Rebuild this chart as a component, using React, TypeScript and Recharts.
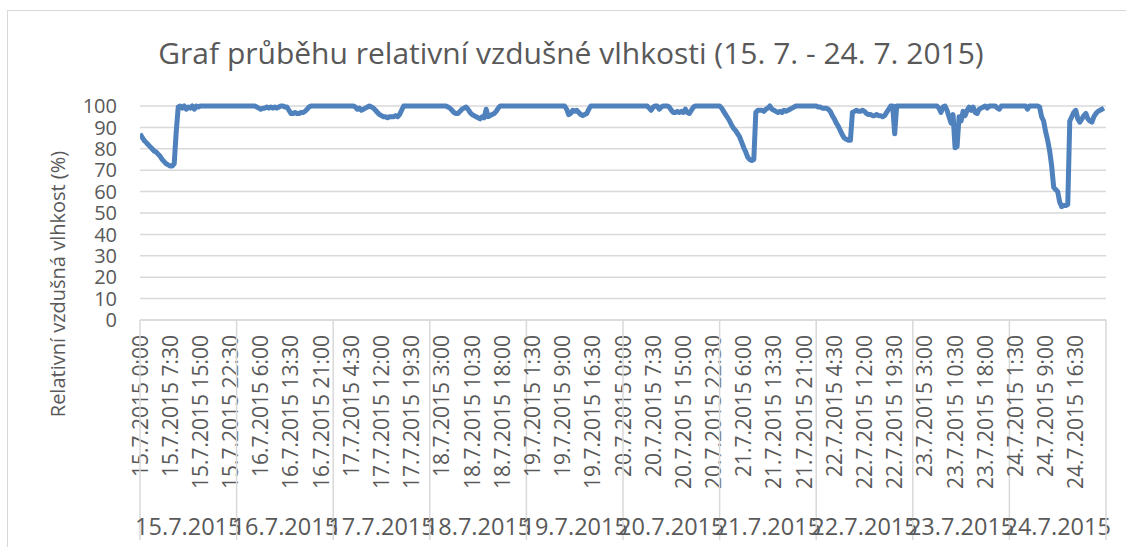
import React from 'react';
import { LineChart, Line, XAxis, YAxis, CartesianGrid } from 'recharts';

// Dates of the measured days
const days = ['15.7.2015', '16.7.2015', '17.7.2015', '18.7.2015', '19.7.2015', '20.7.2015', '21.7.2015', '22.7.2015', '23.7.2015', '24.7.2015'];

// Relative humidity (%) – half-hourly readings per day (00:00, 00:30, ... 23:30)
const d15 = [87, 85.5, 84, 83, 82, 81, 80, 79, 78.5, 77.5, 76.5, 75, 74, 73, 72.5, 72, 72, 73, 88, 99.5, 100, 99, 100, 98.5, 99.5, 99, 100, 98.5, 100, 99.5, 100, 100, 100, 100, 100, 100, 100, 100, 100, 100, 100, 100, 100, 100, 100, 100, 100, 100];
const d16 = [100, 100, 100, 100, 100, 100, 100, 100, 100, 100, 99.5, 99, 98.5, 99, 99, 99.5, 99, 99.5, 99, 99.5, 99, 99.5, 100, 100, 99.5, 99.5, 98, 96.5, 96.5, 97, 96.5, 96.5, 97, 97, 97.5, 98.5, 99.5, 100, 100, 100, 100, 100, 100, 100, 100, 100, 100, 100];
const d17 = [100, 100, 100, 100, 100, 100, 100, 100, 100, 100, 100, 99.5, 98.5, 99, 98, 98.5, 99, 99.5, 100, 99.5, 99, 98, 97, 96, 95.5, 95, 95, 94.5, 95, 95, 95, 95.5, 95, 96, 98, 100, 100, 100, 100, 100, 100, 100, 100, 100, 100, 100, 100, 100];
const d18 = [100, 100, 100, 100, 100, 100, 100, 100, 100, 99.5, 99, 98, 97, 96.5, 96.5, 97.5, 98.5, 99, 99.5, 98.5, 97, 96, 95.5, 95, 94.5, 94, 95, 94.5, 98.5, 95, 95.5, 96, 96.5, 97.5, 99, 100, 100, 100, 100, 100, 100, 100, 100, 100, 100, 100, 100, 100];
const d19 = [100, 100, 100, 100, 100, 100, 100, 100, 100, 100, 100, 100, 100, 100, 100, 100, 100, 100, 100, 100, 98.5, 96, 96.5, 98, 97.5, 98, 97, 96, 95.5, 96, 96.5, 98.5, 100, 100, 100, 100, 100, 100, 100, 100, 100, 100, 100, 100, 100, 100, 100, 100];
const d20 = [100, 100, 100, 100, 100, 100, 100, 100, 100, 100, 100, 100, 100, 99, 98, 99.5, 100, 100, 98.5, 99.5, 100, 100, 100, 99.5, 98, 97, 97, 97.5, 97, 97.5, 97, 98.5, 97, 96.5, 98, 99.5, 100, 100, 100, 100, 100, 100, 100, 100, 100, 100, 100, 100];
const d21 = [100, 99, 97.5, 96, 94.5, 93, 91, 89.5, 88.5, 87, 85.5, 83, 80.5, 78.5, 76, 75, 74.5, 75, 97, 98, 98, 98, 97.5, 98.5, 99, 100, 98.5, 98, 97.5, 97, 97.5, 97, 98, 97.5, 98, 98.5, 99, 99.5, 100, 100, 100, 100, 100, 100, 100, 100, 100, 100];
const d22 = [100, 99.5, 99.5, 99, 99, 99, 98.5, 97.5, 95.5, 94, 92, 90.5, 88.5, 86.5, 85, 84.5, 84, 84, 97, 97.5, 98, 97.5, 97.5, 98, 97.5, 96.5, 96, 96, 95.5, 95.5, 96, 95.5, 95.5, 95, 95.5, 97, 98.5, 100, 100, 87, 100, 100, 100, 100, 100, 100, 100, 100];
const d23 = [100, 100, 100, 100, 100, 100, 100, 100, 100, 100, 100, 100, 100, 99, 97, 99.5, 100, 98, 95, 92, 96, 80.5, 81, 95, 93, 97.5, 95.5, 98, 99.5, 98, 99.5, 97, 96.5, 98.5, 99, 99.5, 100, 99, 100, 100, 100, 100, 99, 98.5, 100, 100, 100, 100];
const d24 = [100, 100, 100, 100, 100, 100, 100, 100, 100, 98.5, 100, 100, 100, 100, 100, 99.5, 95, 93, 88, 84, 79, 72, 62, 61, 60, 55, 53, 53.5, 53.5, 54, 93, 95, 97, 98, 94, 92.5, 94, 95.5, 96.5, 94, 93, 92.5, 95, 96.5, 97.5, 98, 98.5, 99];

const dayValues = [d15, d16, d17, d18, d19, d20, d21, d22, d23, d24];

// Y-axis tick values
const yTicks = [0, 10, 20, 30, 40, 50, 60, 70, 80, 90, 100];

const SLOTS_PER_DAY = 48;
const LABEL_EVERY = 15; // 7.5 hours
const TOTAL = days.length * SLOTS_PER_DAY;

const data = dayValues.flatMap((arr, d) => arr.map((v, j) => ({ t: d * SLOTS_PER_DAY + j, rh: v })));

const tickSet = new Set<number>();
for (let t = 0; t < TOTAL; t += LABEL_EVERY) tickSet.add(t);
for (let d = 0; d <= days.length; d++) tickSet.add(d * SLOTS_PER_DAY);
for (let d = 0; d < days.length; d++) tickSet.add(d * SLOTS_PER_DAY + SLOTS_PER_DAY / 2);
const xTicks = Array.from(tickSet).sort((a, b) => a - b);

const timeLabel = (t: number) => {
  const d = Math.floor(t / SLOTS_PER_DAY);
  const j = t % SLOTS_PER_DAY;
  return `${days[d]} ${Math.floor(j / 2)}:${j % 2 ? '30' : '00'}`;
};

const TEXT = '#595959';
const GRID = '#d9d9d9';
const FONT = '"Open Sans", sans-serif';

const XTick = (props: any) => {
  const { x, y, payload } = props;
  const v: number = payload.value;
  const parts: React.ReactNode[] = [];
  if (v % LABEL_EVERY === 0 && v < TOTAL) {
    parts.push(
      <text key="l" x={x} y={y + 15} dy="0.36em" textAnchor="end" transform={`rotate(-90, ${x}, ${y + 15})`} fill={TEXT} fontSize={21} fontFamily={FONT}>
        {timeLabel(v)}
      </text>
    );
  }
  if (v % SLOTS_PER_DAY === 0) {
    parts.push(<line key="b" x1={x} y1={y} x2={x} y2={y + 220} stroke={GRID} strokeWidth={1.5} />);
  }
  if (v % SLOTS_PER_DAY === SLOTS_PER_DAY / 2) {
    parts.push(
      <text key="d" x={x} y={y + 207} dy="0.36em" textAnchor="middle" fill={TEXT} fontSize={23.5} fontFamily={FONT}>
        {days[Math.floor(v / SLOTS_PER_DAY)]}
      </text>
    );
  }
  return <g>{parts}</g>;
};

export default function App() {
  return (
    <div style={{ position: 'fixed', left: 0, top: 0, width: 1126, height: 547, overflow: 'hidden', background: '#fff' }}>
      <div style={{ position: 'absolute', left: 7, top: 10, width: 1300, height: 700, border: '1px solid #d9d9d9' }} />
      <div style={{ position: 'absolute', left: 571, top: 52, transform: 'translate(-50%, -50%)', whiteSpace: 'nowrap', fontFamily: FONT, fontSize: 30, color: TEXT }}>
        Graf průběhu relativní vzdušné vlhkosti (15. 7. - 24. 7. 2015)
      </div>
      <div style={{ position: 'absolute', left: 58, top: 284, transform: 'translate(-50%, -50%) rotate(180deg)', writingMode: 'vertical-rl', whiteSpace: 'nowrap', fontFamily: FONT, fontSize: 20, color: TEXT, lineHeight: 1 }}>
        Relativní vzdušná vlhkost (%)
      </div>
      <div style={{ position: 'absolute', left: 0, top: 0 }}>
        <LineChart width={1126} height={547} data={data} margin={{ top: 106, right: 20, bottom: 0, left: 60 }}>
          <CartesianGrid vertical={false} stroke={GRID} strokeWidth={1.5} />
          <XAxis
            dataKey="t"
            type="number"
            domain={[0, TOTAL]}
            ticks={xTicks}
            interval={0}
            height={227}
            tickSize={0}
            tickMargin={0}
            tickLine={false}
            axisLine={{ stroke: GRID, strokeWidth: 1.5 }}
            tick={<XTick />}
            allowDataOverflow
          />
          <YAxis
            domain={[0, 100]}
            ticks={yTicks}
            interval={0}
            width={80}
            tickSize={0}
            tickMargin={23}
            tickLine={false}
            axisLine={false}
            tick={{ fill: TEXT, fontSize: 20, fontFamily: FONT }}
          />
          <Line type="linear" dataKey="rh" stroke="#4f81bd" strokeWidth={5} dot={false} strokeLinejoin="round" isAnimationActive={false} />
        </LineChart>
      </div>
    </div>
  );
}
